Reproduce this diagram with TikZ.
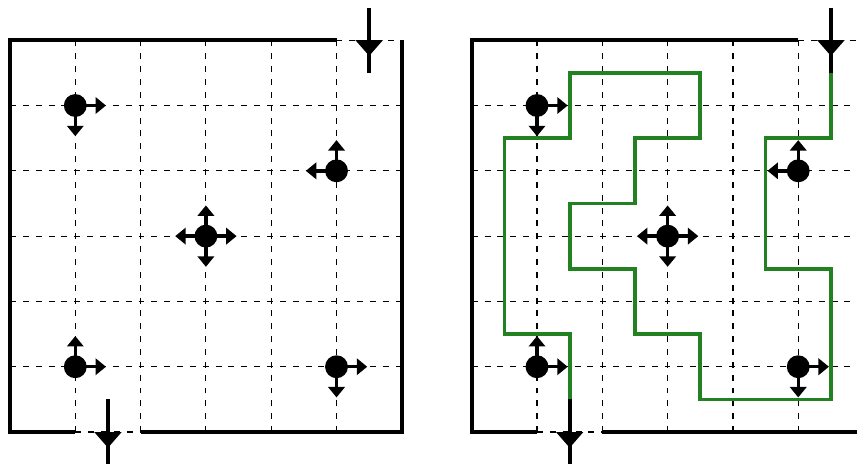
\documentclass[tikz,border=0pt]{standalone}
\usetikzlibrary{arrows.meta}
\definecolor{routegreen}{RGB}{34,130,34}

\begin{document}
\begin{tikzpicture}[
      wall/.style={line width=1.6pt},
      cell/.style={line width=0.5pt, dash pattern=on 2.6pt off 3pt},
      robot/.style={circle, fill=black, inner sep=0pt, minimum size=0.35cm},
      move/.style={line width=1.5pt, -{Triangle[width=0.25cm,length=0.16cm]}},
      route/.style={line width=1.6pt, draw=routegreen}
    ]
    \clip (-0.153,-0.475) rectangle (12.97,6.616);
    \foreach \ox/\b in {0/l,7.07/r}{
      \begin{scope}[xshift=\ox cm]
        % cells
        \foreach \k in {1,...,5}{
          \draw[cell] (\k,0) -- (\k,6);
          \draw[cell] (0,\k) -- (6,\k);
        }
        \draw[cell] (5,6) -- (6,6);
        \draw[cell] (1,0) -- (2,0);
        % walls
        \draw[wall] (5,6) -- (0,6) -- (0,0) -- (1,0);
        \draw[wall] (2,0) -- (6,0) -- (6,6);
        % entry and exit
        \coordinate (\b in) at (5.5,6.5);
        \coordinate (\b start) at (5.5,5.5);
        \coordinate (\b end) at (1.5,0.5);
        \coordinate (\b out) at (1.5,-0.6);
        \draw[wall] (\b in) -- (\b start);
        \draw[wall] (\b end) -- (\b out);
        \fill (5.29,6) -- (5.71,6) -- (5.5,5.76) -- cycle;
        \fill (1.29,0) -- (1.71,0) -- (1.5,-0.24) -- cycle;
        % robots
        \node[robot] (\b15) at (1,5) {};
        \node[robot] (\b54) at (5,4) {};
        \node[robot] (\b33) at (3,3) {};
        \node[robot] (\b11) at (1,1) {};
        \node[robot] (\b51) at (5,1) {};
        \draw[move] (\b15.center) -- ++(0.47,0);
        \draw[move] (\b15.center) -- ++(0,-0.47);
        \draw[move] (\b54.center) -- ++(0,0.47);
        \draw[move] (\b54.center) -- ++(-0.47,0);
        \foreach \d in {0,90,180,270}
          \draw[move] (\b33.center) -- ++(\d:0.47);
        \draw[move] (\b11.center) -- ++(0,0.47);
        \draw[move] (\b11.center) -- ++(0.47,0);
        \draw[move] (\b51.center) -- ++(0.47,0);
        \draw[move] (\b51.center) -- ++(0,-0.47);
      \end{scope}
    }
    % route
    \draw[route, xshift=7.07cm] (rstart) -- (5.5,4.5) -- (4.5,4.5) -- (4.5,2.5)
      -- (5.5,2.5) -- (5.5,0.5) -- (3.5,0.5) -- (3.5,1.5) -- (2.5,1.5)
      -- (2.5,2.5) -- (1.5,2.5) -- (1.5,3.5) -- (2.5,3.5) -- (2.5,4.5)
      -- (3.5,4.5) -- (3.5,5.5) -- (1.5,5.5) -- (1.5,4.5) -- (0.5,4.5)
      -- (0.5,1.5) -- (1.5,1.5) -- (rend);
\end{tikzpicture}
\end{document}
